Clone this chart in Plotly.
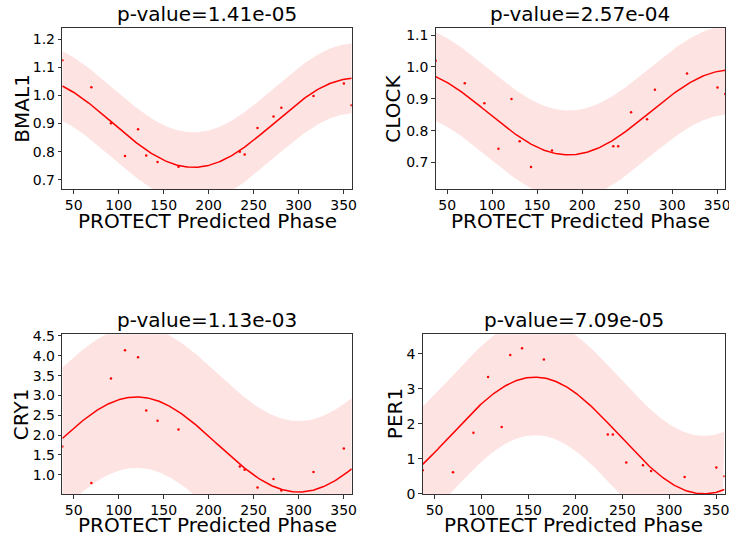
import numpy as np
import plotly.graph_objects as go

# ---- data ----
phase = [37.3, 69.6, 91.4, 107.0, 121.5, 130.6, 143.2, 166.5,
         234.6, 240.0, 254.3, 272.1, 280.8, 316.5, 350.3, 359.0]

bmal1 = [1.125, 1.029, 0.901, 0.785, 0.880, 0.787, 0.764, 0.747,
         0.800, 0.790, 0.884, 0.925, 0.956, 0.998, 1.042, 0.965]
clock = [1.019, 0.949, 0.886, 0.743, 0.899, 0.767, 0.686, 0.738,
         0.751, 0.751, 0.858, 0.836, 0.928, 0.979, 0.935, 0.915]
cry1 = [1.712, 0.789, 3.425, 4.139, 3.963, 2.619, 2.359, 2.141,
        1.209, 1.125, 0.680, 0.889, 0.600, 1.066, 1.662, 0.450]
per1 = [0.667, 0.610, 1.743, 3.343, 1.905, 3.971, 4.162, 3.838,
        1.695, 1.695, 0.895, 0.810, 0.648, 0.476, 0.752, 0.495]

genes = ["BMAL1", "CLOCK", "CRY1", "PER1"]
pvalues = ["1.41e-05", "2.57e-04", "1.13e-03", "7.09e-05"]
x_title = "PROTECT Predicted Phase"

# cosinor fit parameters
mesor = [0.903, 0.857, 1.763, 1.665]
amplitude = [0.158, 0.133, 1.20, 1.67]
acrophase = [3.0, 5.0, 120.0, 157.0]
band_halfwidth = [0.124, 0.139, 1.79, 1.66]

y_ranges = [[0.668, 1.238], [0.617, 1.121], [0.513, 4.542], [-0.01, 4.562]]
y_ticks = [[0.7, 0.8, 0.9, 1.0, 1.1, 1.2], [0.7, 0.8, 0.9, 1.0, 1.1],
           [1.0, 1.5, 2.0, 2.5, 3.0, 3.5, 4.0, 4.5], [0, 1, 2, 3, 4]]
y_tickfmt = [".1f", ".1f", ".1f", "d"]
x_range = [37.3, 359.0]
x_ticks = [50, 100, 150, 200, 250, 300, 350]

values = [bmal1, clock, cry1, per1]

# ---- layout ----
# The figure is drawn slightly larger than the 729x535 window so texts that
# touch the window edge are not pushed inward; positions are window pixels.
W, H = 745, 560
boxes = [(62.3, 351.7, 28.3, 189.0), (435.7, 725.3, 28.3, 189.0),
         (62.3, 351.7, 334.3, 494.0), (422.7, 724.5, 334.3, 494.0)]
ylabel_x = [22, 393, 21, 395]
xlabel_y = [221, 221, 525, 525]


def px_x(v):
    return v / W


def px_y(v):
    return 1 - v / H


fig = go.Figure()
layout = dict(width=W, height=H, margin=dict(l=0, r=0, t=0, b=0),
              plot_bgcolor="white", paper_bgcolor="white", showlegend=False,
              font=dict(family="DejaVu Sans", color="black"))
annotations = []

for i in range(4):
    sfx = "" if i == 0 else str(i + 1)
    xa, ya = "x" + sfx, "y" + sfx
    x0, x1, y0, y1 = boxes[i]
    xd = [px_x(x0), px_x(x1)]
    yd = [px_y(y1), px_y(y0)]

    xs = np.linspace(x_range[0], x_range[1], 300)
    fit = mesor[i] + amplitude[i] * np.cos(np.deg2rad(xs - acrophase[i]))
    up = fit + band_halfwidth[i]
    lo = fit - band_halfwidth[i]

    fig.add_trace(go.Scatter(x=np.concatenate([xs, xs[::-1]]),
                             y=np.concatenate([up, lo[::-1]]),
                             fill="toself", fillcolor="rgba(250,0,0,0.11)",
                             line=dict(width=0), mode="lines",
                             hoverinfo="skip", xaxis=xa, yaxis=ya))
    fig.add_trace(go.Scatter(x=xs, y=fit, mode="lines",
                             line=dict(color="red", width=1.5),
                             xaxis=xa, yaxis=ya))
    fig.add_trace(go.Scatter(x=phase, y=values[i], mode="markers",
                             marker=dict(color="red", size=2.5),
                             xaxis=xa, yaxis=ya))

    layout["xaxis" + sfx] = dict(
        domain=xd, range=x_range, anchor=ya, tickvals=x_ticks,
        showgrid=False, zeroline=False, showline=True, mirror=True,
        linecolor="#333", linewidth=1, ticks="outside", ticklen=3.5,
        tickcolor="#333", tickfont=dict(size=14), automargin=False,
        ticklabeloverflow="allow")
    layout["yaxis" + sfx] = dict(
        domain=yd, range=y_ranges[i], anchor=xa, tickvals=y_ticks[i],
        tickformat=y_tickfmt[i],
        showgrid=False, zeroline=False, showline=True, mirror=True,
        linecolor="#333", linewidth=1, ticks="outside", ticklen=3.5,
        tickcolor="#333", tickfont=dict(size=14), automargin=False,
        ticklabeloverflow="allow")
    # subplot title
    annotations.append(dict(text="p-value=" + pvalues[i], x=(xd[0] + xd[1]) / 2,
                            y=yd[1], xref="paper", yref="paper",
                            xanchor="center", yanchor="bottom", showarrow=False,
                            font=dict(size=20), yshift=0))
    # x axis title
    annotations.append(dict(text=x_title, x=(xd[0] + xd[1]) / 2,
                            y=px_y(xlabel_y[i]), xref="paper", yref="paper",
                            xanchor="center", yanchor="middle",
                            showarrow=False, font=dict(size=20)))
    # y axis title
    annotations.append(dict(text=genes[i], x=px_x(ylabel_x[i]),
                            y=(yd[0] + yd[1]) / 2, xref="paper", yref="paper",
                            xanchor="center", yanchor="middle", showarrow=False,
                            textangle=-90, font=dict(size=20)))

layout["annotations"] = annotations
fig.update_layout(**layout)
fig.write_html("out.html", config={"displayModeBar": False})

# remove the default page margin so the figure sits at the window's corner
with open("out.html", encoding="utf-8") as f:
    html = f.read()
html = html.replace("<body>", '<body style="margin:0;padding:0;overflow:hidden">', 1)
html = html.replace("<head>", "<head><style>html,body{margin:0;padding:0;overflow:hidden;}</style>", 1)
with open("out.html", "w", encoding="utf-8") as f:
    f.write(html)
